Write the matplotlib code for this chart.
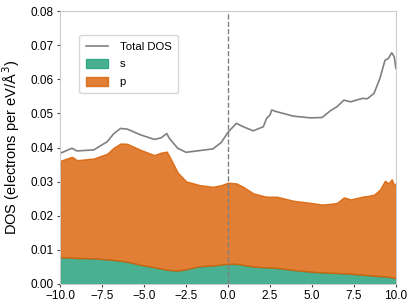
import numpy as np
import matplotlib
matplotlib.use("Agg")
import matplotlib.pyplot as plt

plt.rcParams["font.family"] = ["Liberation Sans", "DejaVu Sans"]

# energies (eV) and projected DOS
energy = [-10, -9.3, -9.0, -8.0, -7.2, -6.8, -6.4, -6.0, -5.2, -4.4, -4.0, -3.65, -3.5,
          -3.0, -2.5, -1.7, -0.9, -0.4, 0.0, 0.5, 0.9, 1.5, 2.1, 2.3, 2.5, 2.6, 2.9,
          3.9, 4.9, 5.6, 6.1, 6.5, 6.9, 7.3, 8.0, 8.3, 8.7, 9.05, 9.35, 9.55, 9.75, 9.9, 10.0]
total = [0.0383, 0.0398, 0.0390, 0.0393, 0.0417, 0.0441, 0.0456, 0.0454, 0.0437, 0.0424,
         0.0428, 0.0441, 0.0427, 0.0398, 0.0386, 0.0391, 0.0396, 0.0415, 0.0445, 0.0471,
         0.0461, 0.0449, 0.0461, 0.0486, 0.0495, 0.0510, 0.0505, 0.0492, 0.0487, 0.0488,
         0.0508, 0.0520, 0.0539, 0.0534, 0.0544, 0.0543, 0.0559, 0.0603, 0.0656, 0.0661,
         0.0678, 0.0666, 0.0632]
s = [0.0078, 0.0077, 0.0076, 0.0075, 0.0072, 0.0070, 0.0068, 0.0065, 0.0056, 0.0049,
     0.0045, 0.0042, 0.0041, 0.0039, 0.0043, 0.0052, 0.0054, 0.0057, 0.0059, 0.0059,
     0.0056, 0.0051, 0.0049, 0.0049, 0.0048, 0.0048, 0.0047, 0.0041, 0.0036, 0.0034,
     0.0033, 0.0032, 0.0031, 0.0030, 0.0027, 0.0026, 0.0024, 0.0023, 0.0022, 0.0021,
     0.0019, 0.0018, 0.0017]
p = [0.0283, 0.0296, 0.0287, 0.0293, 0.0310, 0.0330, 0.0344, 0.0346, 0.0337, 0.0329,
     0.0340, 0.0346, 0.0334, 0.0288, 0.0258, 0.0238, 0.0231, 0.0233, 0.0238, 0.0236,
     0.0229, 0.0215, 0.0209, 0.0207, 0.0208, 0.0208, 0.0209, 0.0203, 0.0202, 0.0199,
     0.0202, 0.0206, 0.0223, 0.0218, 0.0229, 0.0232, 0.0238, 0.0254, 0.0281, 0.0274,
     0.0288, 0.0272, 0.0278]

energy = np.array(energy)
s = np.array(s)
p = np.array(p)

fig = plt.figure(figsize=(4.15, 3.08), dpi=100)
ax = fig.add_axes([0.145, 0.078, 0.809, 0.886])

ax.plot(energy, total, color="#808080", lw=1.2, label="Total DOS")
ax.fill_between(energy, 0, s, facecolor="#1b9e77", alpha=0.8,
                edgecolor="#1b9e77", lw=1, label="s")
ax.fill_between(energy, s, s + p, facecolor="#d95f02", alpha=0.8,
                edgecolor="#d95f02", lw=1, label="p")
ax.axvline(0, color="#808080", ls="--", lw=1)

ax.set_xlim(-10, 10)
ax.set_ylim(0, 0.08)
ax.set_xticks([-10, -7.5, -5, -2.5, 0, 2.5, 5, 7.5, 10])
ax.set_yticks(np.arange(0, 0.081, 0.01))
ax.set_xticklabels(["−10.0", "−7.5", "−5.0", "−2.5", "0.0", "2.5", "5.0", "7.5", "10.0"])
ax.set_yticklabels(["%.2f" % v for v in np.arange(0, 0.081, 0.01)])
ax.set_ylabel("DOS (electrons per eV/Å$^{\\,3}$)", fontsize=10.5, labelpad=6)

for sp in ax.spines.values():
    sp.set_color("#cccccc")
ax.tick_params(length=2.5, width=0.8, color="#444444", labelsize=8.5, pad=2)

leg = ax.legend(loc="upper left", bbox_to_anchor=(0.057, 0.912), borderaxespad=0,
                fontsize=8.2, frameon=True, fancybox=True, borderpad=0.55,
                handletextpad=1.0, labelspacing=0.65, handleheight=0.8)
leg.get_frame().set_edgecolor("#cccccc")

fig.savefig("out.png", dpi=100)
